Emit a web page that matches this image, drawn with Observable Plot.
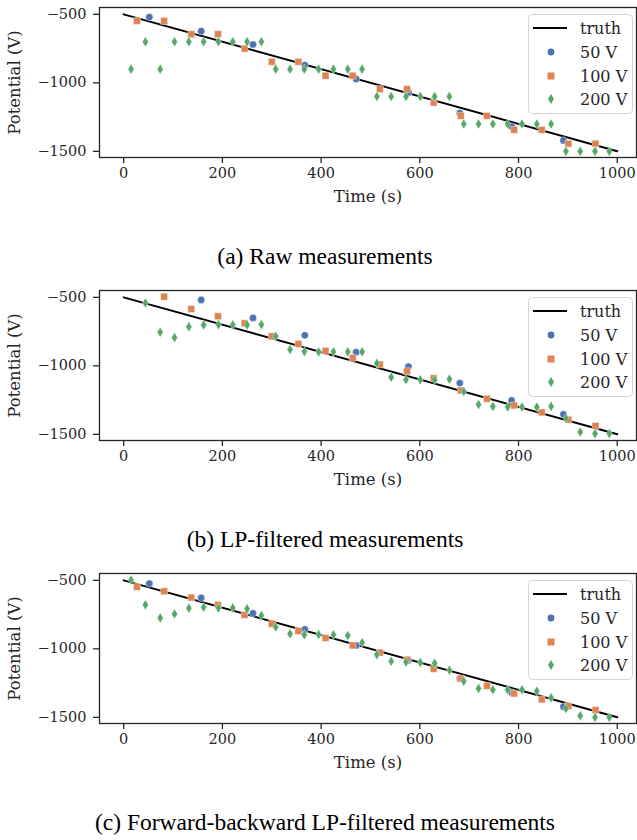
<!DOCTYPE html>
<html>
<head>
<meta charset="utf-8">
<script src="https://cdn.jsdelivr.net/npm/d3@7"></script>
<script src="https://cdn.jsdelivr.net/npm/@observablehq/plot@0.6"></script>
<style>
  body { margin: 0; background: white; width: 637px; }
  .panel { position: relative; width: 637px; height: 283px; }
  .caption { position: absolute; left: 0; top: 242px; width: 650px; text-align: center;
             font-family: "Liberation Serif", "Times New Roman", serif; font-size: 23.5px; color: #000; line-height: 28px; }
  .legend { position: absolute; left: 528px; top: 14px; }
</style>
</head>
<body>
<div id="root"></div>
<script>
// ---- data ----
const truthT = [0, 1000];
const truthV = [-500, -1500];

const t50 = [52, 157, 262, 367, 471, 577, 681, 786, 891];
const t100 = [27, 82, 137, 191, 245, 300, 354, 409, 464, 519, 574, 628, 683, 736, 791, 847, 901, 956];
const t200 = [15, 44, 74, 103, 132, 162, 192, 221, 250, 279, 308, 337, 366, 395, 425, 454, 483, 513, 542, 572, 601, 630, 660, 689, 719, 748, 778, 807, 837, 866, 896, 925, 955, 984];

// (a) raw
const raw50 = [-520, -623, -720, -870, -972, -1070, -1220, -1318, -1420];
const raw100 = [-548, -548, -645, -645, -750, -846, -846, -948, -948, -1045, -1045, -1144, -1241, -1241, -1343, -1343, -1444, -1444];
const raw200 = [-900, -700, -900, -700, -700, -700, -700, -700, -700, -700, -900, -900, -900, -900, -900, -900, -900, -1100, -1100, -1100, -1100, -1100, -1100, -1300, -1300, -1300, -1300, -1300, -1300, -1300, -1500, -1500, -1500, -1500];

// (b) LP-filtered
const lp50 = [null, -519, -650, -777, -900, -1005, -1126, -1252, -1354];
const lp100 = [null, -495, -585, -638, -689, -784, -840, -891, -942, -990, -1039, -1090, -1180, -1240, -1289, -1340, -1393, -1439];
const lp200 = [null, -541, -755, -794, -714, -701, -699, -701, -701, -699, -784, -881, -896, -898, -898, -898, -898, -981, -1083, -1102, -1102, -1102, -1097, -1187, -1282, -1296, -1301, -1301, -1301, -1296, -1383, -1483, -1495, -1495];

// (c) forward-backward LP-filtered
const fb50 = [-524, -628, -740, -858, -975, -1086, -1217, -1318, -1422];
const fb100 = [-548, -580, -626, -679, -752, -817, -870, -921, -975, -1028, -1079, -1146, -1217, -1270, -1326, -1369, -1418, -1447];
const fb200 = [-498, -679, -774, -745, -703, -696, -701, -701, -708, -757, -841, -890, -897, -895, -897, -902, -955, -1042, -1091, -1096, -1100, -1105, -1156, -1236, -1289, -1299, -1299, -1299, -1309, -1357, -1435, -1488, -1500, -1500];

const xTicks = [0, 200, 400, 600, 800, 1000];
const yTicks = [-500, -1000, -1500];
const seriesNames = ["truth", "50 V", "100 V", "200 V"];
const captions = ["(a) Raw measurements", "(b) LP-filtered measurements", "(c) Forward-backward LP-filtered measurements"];

const C50 = "#4C72B0", C100 = "#DD8452", C200 = "#55A868", AX = "#262626";

const thinDiamond = {
  draw(ctx, size) {
    const r = Math.sqrt(size / Math.PI);
    const h = r * 1.4, w = r * 0.85;
    ctx.moveTo(0, -h); ctx.lineTo(w, 0); ctx.lineTo(0, h); ctx.lineTo(-w, 0); ctx.closePath();
  }
};

const zip = (ts, vs) => ts.map((t, i) => ({t, v: vs[i]})).filter(d => d.v != null);
const fmt = d => String(d).replace("-", "\u2212");

function panel(v50, v100, v200) {
  return Plot.plot({
    width: 637, height: 215,
    marginLeft: 99, marginRight: 1, marginTop: 7, marginBottom: 58,
    x: {domain: [-49, 1039]},
    y: {domain: [-1545, -450]},
    style: {fontFamily: "DejaVu Serif", fontSize: "14.5px", color: AX, background: "white", overflow: "visible"},
    marks: [
      Plot.axisX({ticks: xTicks, tickSize: 6, tickPadding: 4, label: null, tickFormat: fmt, strokeWidth: 1.3}),
      Plot.axisY({ticks: yTicks, tickSize: 6, tickPadding: 7, label: null, tickFormat: fmt, strokeWidth: 1.3}),
      Plot.line(zip(truthT, truthV), {x: "t", y: "v", stroke: "black", strokeWidth: 2}),
      Plot.dot(zip(t50, v50), {x: "t", y: "v", symbol: "circle", r: 3.6, fill: C50, stroke: "white", strokeWidth: 0.4}),
      Plot.dot(zip(t100, v100), {x: "t", y: "v", symbol: "square", r: 3.9, fill: C100, stroke: "white", strokeWidth: 0.4}),
      Plot.dot(zip(t200, v200), {x: "t", y: "v", symbol: thinDiamond, r: 3.6, fill: C200, stroke: "white", strokeWidth: 0.4}),
      Plot.frame({stroke: AX, strokeWidth: 1.3}),
      Plot.text(["Time (s)"], {text: d => d, frameAnchor: "bottom", dy: 44, fontSize: 16.5, fill: AX}),
      Plot.text(["Potential (V)"], {text: d => d, frameAnchor: "left", textAnchor: "middle", dx: -85, rotate: -90, fontSize: 16.5, fill: AX})
    ]
  });
}

function legend() {
  const W = 105, H = 100;
  const svg = d3.create("svg").attr("width", W).attr("height", H)
    .style("font-family", "DejaVu Serif").style("font-size", "16px");
  svg.append("rect").attr("x", 0.5).attr("y", 0.5).attr("width", W - 1).attr("height", H - 1)
    .attr("rx", 4).attr("fill", "white").attr("fill-opacity", 0.8).attr("stroke", "#d4d4d4");
  const rows = [14, 38, 62, 85];
  svg.append("line").attr("x1", 5).attr("x2", 39).attr("y1", rows[0]).attr("y2", rows[0]).attr("stroke", "black").attr("stroke-width", 2);
  svg.append("circle").attr("cx", 23).attr("cy", rows[1]).attr("r", 3.4).attr("fill", C50);
  svg.append("rect").attr("x", 19.5).attr("y", rows[2] - 3.5).attr("width", 7).attr("height", 7).attr("fill", C100);
  svg.append("path").attr("d", `M23,${rows[3]-5}L26,${rows[3]}L23,${rows[3]+5}L20,${rows[3]}Z`).attr("fill", C200);
  seriesNames.forEach((n, i) => {
    svg.append("text").attr("x", 52).attr("y", rows[i]).attr("dy", "0.35em").attr("fill", AX).text(n);
  });
  return svg.node();
}

const root = document.getElementById("root");
const sets = [[raw50, raw100, raw200], [lp50, lp100, lp200], [fb50, fb100, fb200]];
sets.forEach((s, i) => {
  const div = document.createElement("div");
  div.className = "panel";
  div.appendChild(panel(...s));
  const lg = document.createElement("div");
  lg.className = "legend";
  lg.appendChild(legend());
  div.appendChild(lg);
  const cap = document.createElement("div");
  cap.className = "caption";
  cap.textContent = captions[i];
  div.appendChild(cap);
  root.appendChild(div);
});
</script>
</body>
</html>
